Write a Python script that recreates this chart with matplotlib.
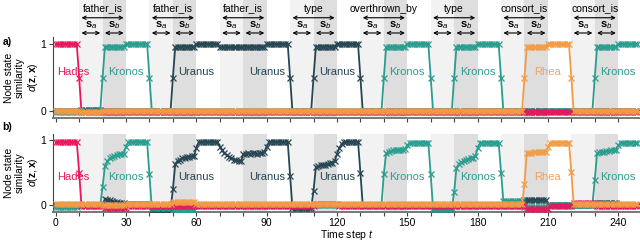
import numpy as np
import matplotlib
matplotlib.use('Agg')
import matplotlib.pyplot as plt
import matplotlib.transforms as mtransforms

plt.rcParams['font.family'] = ['Liberation Sans', 'DejaVu Sans']
plt.rcParams['font.size'] = 7.5
plt.rcParams['mathtext.fontset'] = 'custom'
plt.rcParams['mathtext.rm'] = 'Liberation Sans'
plt.rcParams['mathtext.it'] = 'Liberation Sans:italic'
plt.rcParams['mathtext.bf'] = 'Liberation Sans:bold'


def seq(*parts):
    # (n, v) -> n times v ; list -> values as read
    out = []
    for p in parts:
        if isinstance(p, tuple):
            out += [p[1]] * p[0]
        else:
            out += list(p)
    return np.array(out)


# --- data (one value per time step) ---
band_starts = [10, 40, 70, 100, 130, 160, 190, 220]
relations = ['father_is', 'father_is', 'father_is', 'type',
             'overthrown_by', 'type', 'consort_is', 'consort_is']

ent_names = ['Hades', 'Kronos', 'Uranus', 'Uranus', 'Uranus',
             'Kronos', 'Kronos', 'Rhea', 'Kronos']
ent_pos = [7.5, 30, 60, 90, 120, 150, 180, 210, 240]

# panel a)
hades_a = seq((10, 1.0), [0.5], (9, -0.015), (229, -0.02))
kronos_a = seq((10, -0.02), (10, 0.0), [0.5], (9, 0.96), (10, 1.0), [0.5],
               (99, 0.0), [0.5], (9, 0.96), (10, 1.0), [0.5], (9, 0.0),
               [0.5], (9, 0.96), (10, 1.0), [0.5], (9, 0.0), (10, -0.02),
               (20, 0.0), [0.5], (9, 0.96), (9, 1.0))
uranus_a = seq((11, 0.0), (9, 0.02), (30, 0.0), [0.5], (9, 0.96), (10, 1.0),
               (10, 0.95), (10, 0.96), (10, 1.0), [0.5], (9, 0.0), [0.5],
               (9, 0.96), (10, 1.0), [0.5], (118, 0.0))
rhea_a = seq((11, 0.0), (9, -0.01), (180, 0.0), [0.5], (9, 0.96), (10, 1.0),
             [0.5], (28, 0.0))

# panel b)
hades_b = seq((10, 0.97), [0.5], (10, -0.01), (10, -0.04), (80, -0.01),
              (10, 0.01), (80, -0.015), (10, -0.06), (10, -0.01),
              (10, 0.03), (18, -0.02))
kronos_b = seq((10, -0.03), (10, 0.0),
               [0.28, 0.6, 0.67, 0.72, 0.74, 0.76, 0.77, 0.78, 0.78, 0.79, 0.9],
               (9, 0.97), [0.47], (9, -0.05), (10, -0.07), (80, 0.0),
               [0.48, 0.8, 0.82, 0.83, 0.84, 0.84, 0.85, 0.85, 0.85, 0.86, 0.92],
               (9, 0.96), [0.47], (9, -0.06),
               [0.2, 0.57, 0.63, 0.66, 0.68, 0.7, 0.71, 0.72, 0.73, 0.75, 0.87],
               (9, 0.96), [0.5], (9, 0.06), (10, -0.03), (20, 0.0),
               [0.39, 0.8, 0.81, 0.82, 0.82, 0.83, 0.83, 0.84, 0.84, 0.84, 0.92],
               (8, 0.96))
uranus_b = seq((20, 0.0),
               [0.02, 0.09, 0.08, 0.07, 0.06, 0.05, 0.04, 0.03, 0.03, 0.03],
               (11, 0.02), (9, -0.07),
               [0.24, 0.63, 0.68, 0.7, 0.72, 0.73, 0.74, 0.74, 0.75, 0.76, 0.88],
               (9, 0.97),
               [0.9, 0.84, 0.8, 0.77, 0.74, 0.72, 0.7, 0.69, 0.68, 0.67, 0.78],
               [0.79, 0.8, 0.79, 0.8, 0.8, 0.79, 0.8, 0.8, 0.81],
               [0.9], (9, 0.97), [0.45], (9, -0.05),
               [0.22, 0.58, 0.6, 0.61, 0.62, 0.62, 0.63, 0.64, 0.65, 0.67,
                0.78, 0.88, 0.94],
               (7, 0.97), [0.5], (30, 0.0), (9, -0.06), (30, 0.0),
               (10, 0.08), (20, 0.0), (10, 0.03), (9, 0.0))
rhea_b = seq((20, 0.01), (10, 0.0), (20, 0.01), (10, 0.05), (140, 0.01),
             [0.33, 0.8, 0.8, 0.8, 0.81, 0.81, 0.81, 0.82, 0.82, 0.82, 0.89],
             (9, 0.96), [0.51], (28, 0.01))

colors = {'Hades': '#E8175D', 'Kronos': '#2A9D8F',
          'Uranus': '#264653', 'Rhea': '#F39C45'}
label_colors = {'Hades': '#E8175D', 'Kronos': '#2A9D8F',
                'Uranus': '#264653', 'Rhea': '#F4A261'}

panels = [
    {'Uranus': uranus_a, 'Kronos': kronos_a, 'Hades': hades_a, 'Rhea': rhea_a},
    {'Uranus': uranus_b, 'Kronos': kronos_b, 'Hades': hades_b, 'Rhea': rhea_b},
]
label_y = [0.58, 0.43]

# --- figure ---
fig = plt.figure(figsize=(6.4, 2.43), dpi=100)
left = 52.9 / 640
ax_a = fig.add_axes([left, 1 - 117.6 / 243, 1 - left, 80.2 / 243])
ax_b = fig.add_axes([left, 1 - 211.5 / 243, 1 - left, 78.0 / 243])

for i, ax in enumerate([ax_a, ax_b]):
    top = 1.5 if i == 0 else 1.0
    for s in band_starts:
        ax.axvspan(s, s + 10, ymin=0, ymax=top, color='#F2F2F2', lw=0,
                   zorder=0, clip_on=False)
        ax.axvspan(s + 10, s + 20, ymin=0, ymax=top, color='#DEDEDE', lw=0,
                   zorder=0, clip_on=False)

    for name, vals in panels[i].items():
        ax.plot(np.arange(len(vals)), vals, color=colors[name], lw=1.3,
                marker='x', ms=4, mew=0.9, zorder=3)

    for name, xpos in zip(ent_names, ent_pos):
        ax.text(xpos, label_y[i], name, color=label_colors[name],
                ha='center', va='center', fontsize=8, zorder=4)

    ax.set_xlim(-1.2, 249.3)
    ax.set_ylim(-0.1, 1.1)
    ax.set_yticks([0, 1])
    ax.set_xticks(np.arange(0, 241, 30))
    ax.set_xticks(np.arange(0, 241, 10), minor=True)
    ax.tick_params(axis='both', which='both', length=3, width=0.8,
                   color='#444444', labelsize=7.5, pad=2)
    for sp in ['top', 'right']:
        ax.spines[sp].set_visible(False)
    ax.spines['left'].set_color('#444444')
    ax.spines['left'].set_linewidth(0.8)
    ax.spines['bottom'].set_color('#777777')
    ax.spines['bottom'].set_linewidth(1.4)

ax_a.tick_params(axis='x', labelbottom=False)
ax_b.set_xlabel('Time step $t$', fontsize=7.5, labelpad=0)

# header of panel a: relation names and s_a / s_b arrows
trans = mtransforms.blended_transform_factory(ax_a.transData, ax_a.transAxes)
arrow = dict(arrowstyle='<->', lw=0.8, color='black', shrinkA=0, shrinkB=0,
             mutation_scale=6)
for s, rel in zip(band_starts, relations):
    ax_a.text(s + 10, 1.36, rel, transform=trans, ha='center', va='center',
              fontsize=7.5, clip_on=False)
    ax_a.annotate('', xy=(s + 19, 1.245), xytext=(s + 1, 1.245),
                  xycoords=trans, textcoords=trans, arrowprops=arrow,
                  annotation_clip=False)
    ax_a.text(s + 5, 1.15, r'$\mathbf{s}_a$', transform=trans, ha='center',
              va='center', fontsize=8, clip_on=False)
    ax_a.text(s + 15, 1.15, r'$\mathbf{s}_b$', transform=trans, ha='center',
              va='center', fontsize=8, clip_on=False)
    ax_a.annotate('', xy=(s + 9, 1.055), xytext=(s + 1, 1.055),
                  xycoords=trans, textcoords=trans, arrowprops=arrow,
                  annotation_clip=False)
    ax_a.annotate('', xy=(s + 19, 1.055), xytext=(s + 11, 1.055),
                  xycoords=trans, textcoords=trans, arrowprops=arrow,
                  annotation_clip=False)

ylab = 'Node state\nsimilarity\n$d(\\mathbf{z}, \\mathbf{x})$'
fig.text(22 / 640, 1 - 77.5 / 243, ylab, rotation=90, ha='center',
         va='center', multialignment='center', fontsize=7.5, linespacing=1.1)
fig.text(22 / 640, 1 - 172.5 / 243, ylab, rotation=90, ha='center',
         va='center', multialignment='center', fontsize=7.5, linespacing=1.1)
fig.text(0.004, 1 - 42 / 243, 'a)', fontweight='bold', fontsize=7.5,
         va='center')
fig.text(0.004, 1 - 127 / 243, 'b)', fontweight='bold', fontsize=7.5,
         va='center')

fig.savefig('out.png', dpi=100)
